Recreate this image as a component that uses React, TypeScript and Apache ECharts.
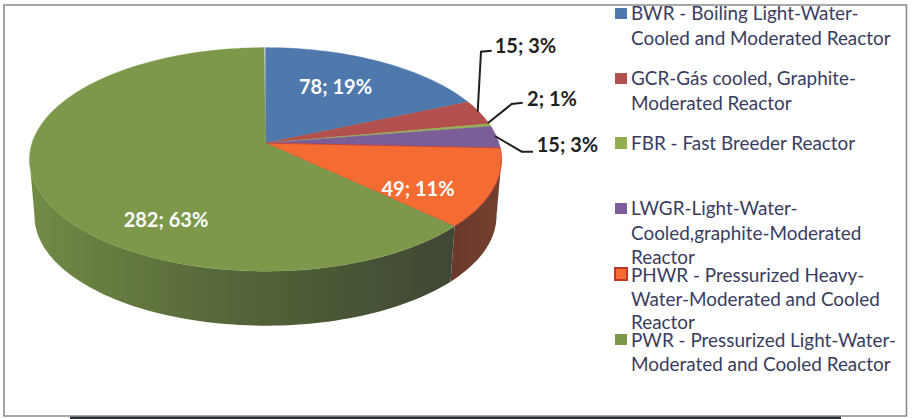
import React, { useEffect, useRef } from "react";
import * as echarts from "echarts";

const reactorCodes = ["BWR", "GCR", "FBR", "LWGR", "PHWR", "PWR"];
const reactorCounts = [78, 15, 2, 15, 49, 282];
const labelPercents = [19, 3, 1, 3, 11, 63];
const drawnShares = [18.5, 3.6, 0.4, 3.2, 11.3, 62.9];
const topColors = ["#4f78ad", "#b2504d", "#93ae51", "#7b5e97", "#f56c33", "#7d984a"];
const legendLines = [
  ["BWR - Boiling Light-Water-", "Cooled and Moderated Reactor"],
  ["GCR-Gás cooled, Graphite-", "Moderated Reactor"],
  ["FBR - Fast Breeder Reactor"],
  ["LWGR-Light-Water-", "Cooled,graphite-Moderated", "Reactor"],
  ["PHWR - Pressurized Heavy-", "Water-Moderated and Cooled", "Reactor"],
  ["PWR - Pressurized Light-Water-", "Moderated and Cooled Reactor"],
];

const FONT = "Lato, 'Noto Sans', sans-serif";
const TOP = { cx: 265.5, cy: 159.4, rx: 236, ry: 111.8 };
const BOTTOM = { cx: 265.5, cy: 216, rx: 231, ry: 109.7 };
const K = -0.146;
const SIL = (Math.acos(K) * 180) / Math.PI; // right silhouette angle, clockwise from top

const project = (e: typeof TOP, deg: number) => {
  const a = (deg * Math.PI) / 180;
  const u = Math.sin(a);
  const v = -Math.cos(a);
  const d = 1 + K * v;
  return [e.cx + (e.rx * u * Math.sqrt(1 - K * K)) / d, e.cy + (e.ry * (v + K)) / d];
};
const arc = (e: typeof TOP, a: number, b: number) => {
  const pts: number[][] = [];
  const n = Math.max(2, Math.ceil(Math.abs(b - a) / 1.5));
  for (let i = 0; i <= n; i++) pts.push(project(e, a + ((b - a) * i) / n));
  return pts;
};
const APEX = [TOP.cx, TOP.cy + TOP.ry * K];

const cumulative = drawnShares.reduce<number[]>((acc, s) => [...acc, acc[acc.length - 1] + (s / 100) * 360], [0]);

// Label and leader placement (layout only)
const labelStyle = [
  { x: 335.5, y: 86, color: "#ffffff" },
  { x: 525.5, y: 45, color: "#1f1f1f", line: [[477.7, 111.7], [481, 51.7], [491.7, 50.7]] },
  { x: 552, y: 98, color: "#1f1f1f", line: [[488, 123], [511.7, 104], [522.7, 102.7]] },
  { x: 567.5, y: 144, color: "#1f1f1f", line: [[495, 136], [521.7, 151.7], [533, 151.7]] },
  { x: 418, y: 188, color: "#ffffff" },
  { x: 166, y: 219, color: "#ffffff" },
];
const legendLayout = [
  { mark: [615, 8, 12, 11], y: [12, 37] },
  { mark: [615, 73, 12, 11], y: [77, 102] },
  { mark: [615, 137, 12, 12], y: [142] },
  { mark: [615, 203, 12, 11], y: [207, 232, 256] },
  { mark: [615, 268, 12, 12], y: [274, 298, 321] },
  { mark: [615, 334, 12, 11], y: [339, 363] },
];
const sideFills: any[] = [
  "#3a5a85", "#86403c", "#6f8440", "#5c4672",
  { type: "linear", x: 0, y: 0, x2: 1, y2: 0, colorStops: [{ offset: 0, color: "#6a392c" }, { offset: 1, color: "#74402f" }] },
  { type: "linear", x: 0, y: 0, x2: 1, y2: 0, colorStops: [{ offset: 0, color: "#728b45" }, { offset: 0.45, color: "#566739" }, { offset: 1, color: "#3e4733" }] },
];

export default function App() {
  const ref = useRef<HTMLDivElement>(null);
  useEffect(() => {
    document.body.style.margin = "0";
    const chart = echarts.init(ref.current!, undefined, { renderer: "svg" });
    const data = reactorCodes.map((name, i) => ({ name, value: [drawnShares[i], reactorCounts[i], labelPercents[i]] }));

    const legendGraphics: any[] = [];
    legendLayout.forEach((l, i) => {
      legendGraphics.push({
        type: "rect",
        z: 20,
        shape: { x: l.mark[0], y: l.mark[1], width: l.mark[2], height: l.mark[3] },
        style: { fill: topColors[i], stroke: i === 4 ? "#c0392b" : undefined, lineWidth: i === 4 ? 2 : 0 },
      });
      legendLines[i].forEach((t, j) => {
        legendGraphics.push({
          type: "text",
          z: 20,
          style: { text: t, x: 631, y: l.y[j], fill: "#3a3c5e", font: `18.9px ${FONT}`, verticalAlign: "middle" },
        });
      });
    });

    chart.setOption({
      animation: false,
      backgroundColor: "#ffffff",
      graphic: [
        { type: "rect", z: 0, shape: { x: 70, y: 416, width: 771, height: 3 }, style: { fill: "#2b3036" } },
        { type: "rect", z: 1, shape: { x: 4, y: 5, width: 902.5, height: 411 }, style: { fill: "#ffffff", stroke: "#8c8c8c", lineWidth: 1.6 } },
        ...legendGraphics,
      ],
      series: [
        {
          type: "custom",
          coordinateSystem: "none",
          z: 5,
          silent: true,
          data,
          renderItem: (params: any) => {
            const i = params.dataIndex;
            const a = Math.max(cumulative[i], SIL);
            const b = Math.min(cumulative[i + 1], 360 - SIL);
            if (b <= a) return { type: "group", children: [] };
            return {
              type: "polygon",
              shape: { points: [...arc(TOP, a, b), ...arc(BOTTOM, b, a)] },
              style: { fill: sideFills[i] },
            };
          },
        },
        {
          type: "custom",
          coordinateSystem: "none",
          z: 6,
          silent: true,
          data,
          renderItem: (params: any, api: any) => {
            const i = params.dataIndex;
            const st = labelStyle[i];
            const children: any[] = [
              {
                type: "polygon",
                shape: { points: [APEX, ...arc(TOP, cumulative[i], cumulative[i + 1])] },
                style: { fill: topColors[i], stroke: i === 4 ? "#c0392b" : topColors[i], lineWidth: i === 4 ? 0.8 : 0.4 },
              },
            ];
            if (st.line) {
              children.push({
                type: "polyline",
                z2: 10,
                shape: { points: st.line },
                style: { stroke: "#1f1f1f", lineWidth: 2, fill: "none" },
              });
            }
            children.push({
              type: "text",
              z2: 11,
              style: {
                text: `${api.value(1)}; ${api.value(2)}%`,
                x: st.x,
                y: st.y,
                fill: st.color,
                font: `bold 20px ${FONT}`,
                align: "center",
                verticalAlign: "middle",
              },
            });
            return { type: "group", children };
          },
        },
      ],
    });
    return () => chart.dispose();
  }, []);
  return <div ref={ref} style={{ width: 915, height: 419 }} />;
}
